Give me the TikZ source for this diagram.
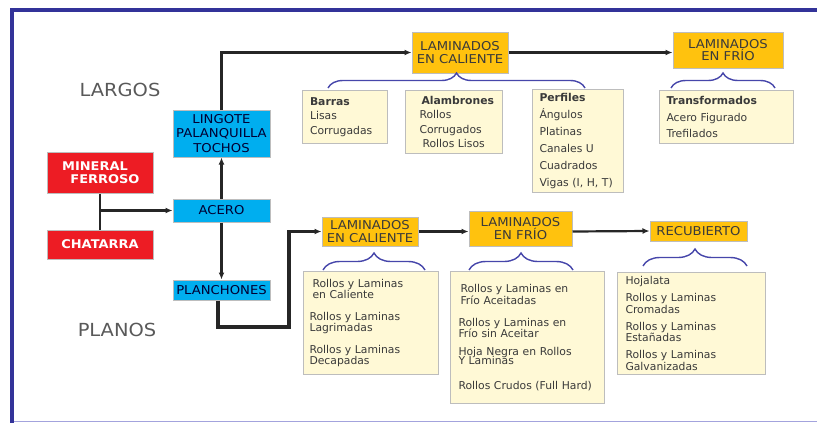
\documentclass[tikz,border=0pt]{standalone}
\usepackage{fontspec}
\setmainfont{DejaVu Sans}
\newfontfamily\cabfont{DejaVu Sans}[FakeStretch=1.08]
\usepackage{tikz}
\usetikzlibrary{arrows.meta,decorations.pathreplacing}

\definecolor{azulmarco}{HTML}{333399}
\definecolor{lila}{HTML}{A3A3DD}
\definecolor{celeste}{HTML}{00AEEF}
\definecolor{rojo}{HTML}{ED1C24}
\definecolor{oro}{HTML}{FFC20E}
\definecolor{crema}{HTML}{FFF9D6}
\definecolor{borde}{HTML}{BDBDBD}
\definecolor{texto}{HTML}{3A3A3A}
\definecolor{llavecol}{HTML}{4646AA}

\begin{document}
\begin{tikzpicture}[x=1pt,y=1pt,
		caja/.style={draw=borde,line width=1pt,inner sep=0pt,align=center,
			font=\cabfont\fontsize{12.2}{12.5}\selectfont},
		azul/.style={caja,fill=celeste,text=black!80!blue},
		roja/.style={caja,fill=rojo,text=white,font=\cabfont\bfseries\fontsize{12}{13.5}\selectfont},
		amarilla/.style={caja,fill=oro,text=texto},
		lista/.style={draw=borde,line width=1pt,fill=crema,anchor=north west,align=left,
			inner xsep=8pt,text=texto,font=\fontsize{10.8}{11.5}\selectfont},
		titulo/.style={text=black!65,font=\cabfont\fontsize{18}{20}\selectfont},
		flecha/.style={-{Latex[length=7pt,width=6pt]},line width=2.2pt,black!85},
		gruesa/.style={flecha,line width=3.6pt},
		llave/.style={decorate,decoration={brace,amplitude=15pt},line width=1.4pt,llavecol}]
	\useasboundingbox (0,0) rectangle (817,-423);

	% marco
	\draw[lila,line width=1.5pt] (12,-421.5) -- (817,-421.5);
	\draw[azulmarco,line width=4pt] (12,-423) -- (12,-10) -- (817,-10);

	% origen
	\node[azul,minimum width=97pt,minimum height=47pt,font=\cabfont\fontsize{12.2}{14.5}\selectfont] (lingote) at (221.5,-133.5) {LINGOTE\\PALANQUILLA\\TOCHOS};
	\node[azul,minimum width=97pt,minimum height=23pt,below of=lingote,node distance=77pt] (acero) {ACERO};
	\node[azul,minimum width=97pt,minimum height=20pt,below of=acero,node distance=79.5pt] (planchones) {PLANCHONES};
	\node[roja,minimum width=106pt,minimum height=41pt] (mineral) at (100,-172.5) {MINERAL\hspace*{10pt}\\\hspace*{10pt}FERROSO};
	\node[roja,minimum width=106pt,minimum height=29pt,below of=mineral,node distance=72pt] (chatarra) {CHATARRA};
	\node[titulo] (largos) at (120,-90) {LARGOS};
	\node[titulo] (planos) at (117,-330) {PLANOS};

	% largos
	\node[amarilla,minimum width=96pt,minimum height=41pt] (lamcal) at (460,-52.5) {LAMINADOS\\EN CALIENTE};
	\node[amarilla,minimum width=110pt,minimum height=36pt] (lamfrio) at (728,-50) {LAMINADOS\\EN FRÍO};
	\node[lista,minimum width=85pt,minimum height=53pt,text width=70pt,inner xsep=7pt] (barras) at (302,-90)
		{\textbf{Barras}\\[3pt]Lisas\\[3pt]Corrugadas};
	\node[lista,minimum width=97pt,minimum height=63pt,text width=83pt,inner xsep=7pt] (alambrones) at (405,-90)
		{\hspace*{9pt}\textbf{Alambrones}\\[3pt]\hspace*{7pt}Rollos\\[3pt]\hspace*{7pt}Corrugados\\[3pt]\hspace*{10pt}Rollos Lisos};
	\node[lista,minimum width=91pt,minimum height=103pt,text width=77pt,inner xsep=7pt] (perfiles) at (532,-89)
		{\textbf{Perfiles}\\[5.5pt]Ángulos\\[5.5pt]Platinas\\[5.5pt]Canales U\\[5.5pt]Cuadrados\\[5.5pt]Vigas (I, H, T)};
	\node[lista,minimum width=134pt,minimum height=53pt,text width=120pt,inner xsep=7pt] (transf) at (659,-90)
		{\textbf{Transformados}\\[5pt]Acero Figurado\\[5pt]Trefilados};

	% planos
	\node[amarilla,minimum width=96pt,minimum height=29pt] (lamcal2) at (370,-231.5) {LAMINADOS\\EN CALIENTE};
	\node[amarilla,minimum width=103pt,minimum height=35pt] (lamfrio2) at (520.5,-228.5) {LAMINADOS\\EN FRÍO};
	\node[amarilla,minimum width=97pt,minimum height=20pt] (recub) at (698.5,-231) {RECUBIERTO};
	\node[lista,minimum width=135pt,minimum height=103pt,text width=123pt,inner xsep=6pt] (rcal) at (303,-271)
		{\hspace*{3pt}Rollos y Laminas\\\hspace*{3pt}en Caliente\\[10pt]Rollos y Laminas\\Lagrimadas\\[10pt]Rollos y Laminas\\Decapadas};
	\node[lista,minimum width=154pt,minimum height=132pt,text width=144pt,inner xsep=5pt] (rfrio) at (450,-271)
		{\hspace*{5pt}Rollos y Laminas en\\\hspace*{5pt}Frío Aceitadas\\[10.5pt]\hspace*{3pt}Rollos y Laminas en\\\hspace*{3pt}Frío sin Aceitar\\[6pt]\hspace*{3pt}Hoja Negra en Rollos\\[-2pt]\hspace*{3pt}Y Laminas\\[13pt]\hspace*{3pt}Rollos Crudos (Full Hard)};
	\node[lista,minimum width=148pt,minimum height=102pt,text width=136pt,inner xsep=6pt] (rrecub) at (617,-272)
		{\hspace*{2pt}Hojalata\\[5.5pt]\hspace*{2pt}Rollos y Laminas\\\hspace*{2pt}Cromadas\\[5.5pt]\hspace*{2pt}Rollos y Laminas\\\hspace*{2pt}Estañadas\\[5.5pt]\hspace*{2pt}Rollos y Laminas\\\hspace*{2pt}Galvanizadas};

	% conexiones
	\coordinate (codo) at (289,-327);
	\draw[flecha,-] (mineral.south) -- (chatarra.north);
	\draw[flecha] (mineral.south |- acero.west) -- (acero.west);
	\draw[flecha] (acero.north) -- (lingote.south);
	\draw[flecha] (acero.south) -- (planchones.north);
	\draw[flecha] (lingote.north) |- (lamcal.west);
	\draw[flecha] (lamcal.east) -- (lamcal.east -| lamfrio.west);
	\draw[gruesa] (planchones.south -| 218,0) |- (codo) |- (lamcal2.west);
	\draw[flecha] (lamcal2.east) -- (lamcal2.east -| lamfrio2.west);
	\draw[flecha] (lamfrio2.east |- lamcal2.east) -- (recub.west);

	% llaves
	\draw[llave] (328,-88) -- (585,-88);
	\draw[llave] (671,-88) -- (775,-88);
	\draw[llave,decoration={amplitude=17pt}] (323,-270) -- (425,-270);
	\draw[llave,decoration={amplitude=17pt}] (469,-270) -- (573,-270);
	\draw[llave,decoration={amplitude=17pt}] (643,-266) -- (747,-266);
\end{tikzpicture}
\end{document}
